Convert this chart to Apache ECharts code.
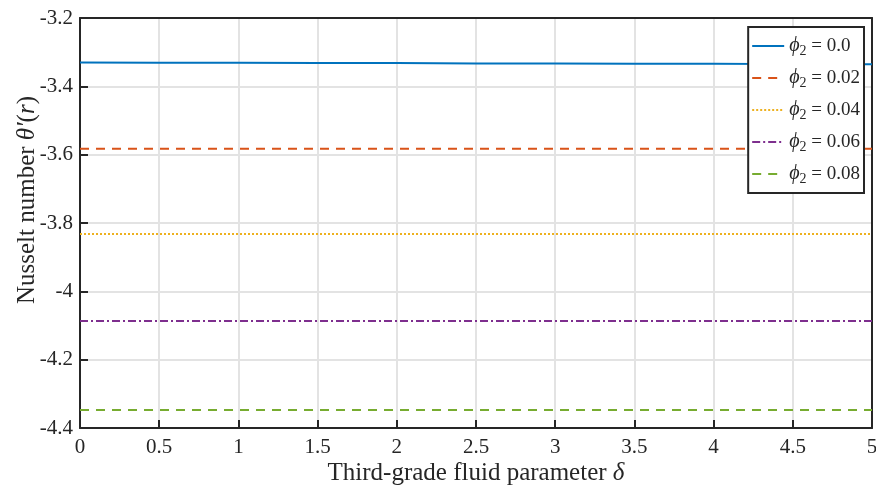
<!DOCTYPE html>
<html><head><meta charset="utf-8">
<script src="https://cdn.jsdelivr.net/npm/echarts@6/dist/echarts.min.js"></script>
<style>html,body{margin:0;padding:0;background:#fff}#c{width:876px;height:487px}</style>
</head><body><div id="c"></div>
<script>
const xValues = [0, 0.5, 1, 1.5, 2, 2.5, 3, 3.5, 4, 4.5, 5];
const phi00 = [-3.330, -3.331, -3.331, -3.332, -3.332, -3.333, -3.333, -3.334, -3.334, -3.335, -3.335];
const phi02 = [-3.583, -3.583, -3.583, -3.583, -3.583, -3.583, -3.583, -3.583, -3.583, -3.583, -3.583];
const phi04 = [-3.832, -3.832, -3.832, -3.832, -3.832, -3.832, -3.832, -3.832, -3.832, -3.832, -3.832];
const phi06 = [-4.087, -4.087, -4.087, -4.087, -4.087, -4.087, -4.087, -4.087, -4.087, -4.087, -4.087];
const phi08 = [-4.347, -4.347, -4.347, -4.347, -4.347, -4.347, -4.347, -4.347, -4.347, -4.347, -4.347];
const seriesNames = ['0.0', '0.02', '0.04', '0.06', '0.08'];
const colors = ['#0072BD', '#D95319', '#EDB120', '#7E2F8E', '#77AC30'];
const dashes = ['solid', [9, 7], [2, 2], [8, 3, 2, 3], [9, 7]];
const allData = [phi00, phi02, phi04, phi06, phi08];

const font = '"Liberation Serif", "DejaVu Serif", serif';
const ink = '#262626';
const chart = echarts.init(document.getElementById('c'));
const series = allData.map((d, i) => ({
  name: seriesNames[i],
  type: 'line',
  data: xValues.map((x, j) => [x, d[j]]),
  symbol: 'none',
  showSymbol: false,
  lineStyle: { color: colors[i], width: 2, type: dashes[i] },
  itemStyle: { color: colors[i] },
  z: 2
}));
const frameAxis = { show: true, axisLine: { show: true, onZero: false, lineStyle: { color: ink, width: 2 } }, axisTick: { show: false }, axisLabel: { show: false }, splitLine: { show: false } };
chart.setOption({
  animation: false,
  backgroundColor: '#fff',
  grid: { left: 80, right: 4, top: 18, bottom: 59, containLabel: false, outerBoundsMode: 'none' },
  xAxis: [{
    type: 'value', min: 0, max: 5, interval: 0.5,
    name: 'Third-grade fluid parameter {i|δ}', nameLocation: 'middle', nameGap: 33, nameMoveOverlap: false,
    nameTextStyle: { fontFamily: font, fontSize: 25, color: ink, rich: { i: { fontFamily: font, fontStyle: 'italic', fontSize: 25, color: ink } } },
    axisLine: { show: true, onZero: false, lineStyle: { color: ink, width: 2 } },
    axisTick: { show: true, inside: true, length: 8, lineStyle: { color: ink, width: 2 } },
    axisLabel: { fontFamily: font, fontSize: 21, color: ink, margin: 9 },
    splitLine: { show: true, lineStyle: { color: '#e3e3e3', width: 2 } }
  }, Object.assign({ type: 'value', position: 'top', min: 0, max: 5 }, frameAxis)],
  yAxis: [{
    type: 'value', min: -4.4, max: -3.2, interval: 0.2,
    name: 'Nusselt number {i|θ′}({i|r})', nameLocation: 'middle', nameGap: 40, nameMoveOverlap: false,
    nameTextStyle: { fontFamily: font, fontSize: 25, color: ink, padding: [0, 0, 0, 46], rich: { i: { fontFamily: font, fontStyle: 'italic', fontSize: 25, color: ink } } },
    axisLine: { show: true, onZero: false, lineStyle: { color: ink, width: 2 } },
    axisTick: { show: true, inside: true, length: 8, lineStyle: { color: ink, width: 2 } },
    axisLabel: { fontFamily: font, fontSize: 21, color: ink, margin: 7, formatter: v => String(Math.round(v * 10) / 10) },
    splitLine: { show: true, lineStyle: { color: '#e3e3e3', width: 2 } }
  }, Object.assign({ type: 'value', position: 'right', min: -4.4, max: -3.2 }, frameAxis)],
  legend: {
    orient: 'vertical', right: 12, top: 27, z: 20,
    backgroundColor: '#fff', borderColor: ink, borderWidth: 2,
    padding: [9, 4, 7, 3], itemGap: 10, itemWidth: 32, itemHeight: 14,
    itemStyle: { opacity: 0 },
    data: seriesNames,
    formatter: n => '{p|ϕ}{s|2} = ' + n,
    textStyle: {
      fontFamily: font, fontSize: 19, color: ink,
      rich: {
        p: { fontFamily: font, fontStyle: 'italic', fontSize: 20, color: ink },
        s: { fontFamily: font, fontSize: 14, color: ink, verticalAlign: 'bottom', padding: [10, 0, 0, 0] }
      }
    }
  },
  series: series
});
</script></body></html>
